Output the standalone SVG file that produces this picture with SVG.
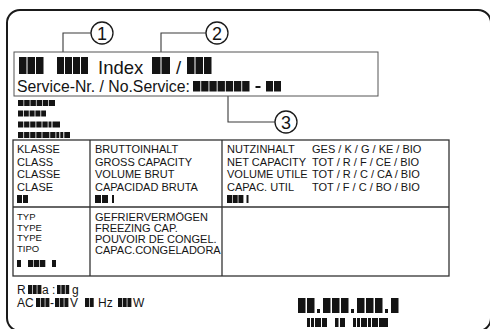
<svg xmlns="http://www.w3.org/2000/svg" width="490" height="329" viewBox="0 0 490 329">
<defs>
<style>
.t{font-family:"Liberation Sans",Arial,sans-serif;fill:#141414}
.b{fill:#141414}
.ln{fill:none;stroke:#3a3a3a;stroke-width:1.1}
.tb{fill:none;stroke:#333;stroke-width:1.3}
.cir{fill:#fff;stroke:#1a1a1a;stroke-width:1.3}
.num{font-family:"Liberation Sans",Arial,sans-serif;font-size:18px;fill:#141414;text-anchor:middle}
</style>
</defs>
<rect width="490" height="329" fill="#fff"/>
<g id="label-outline">
<rect x="7" y="10" width="484" height="321" rx="13" ry="13" fill="none" stroke="#1a1a1a" stroke-width="2"/>
</g>
<g id="connectors">
<polyline class="ln" points="63,52 63,33 91,33"/>
<polyline class="ln" points="161,52 161,33 206,33"/>
<polyline class="ln" points="228,96 228,122 275,122"/>
</g>
<g id="callout-1">
<circle class="cir" cx="102" cy="33" r="11"/>
<text class="num" x="102" y="39.5">1</text>
</g>
<g id="callout-2">
<circle class="cir" cx="217" cy="33" r="11"/>
<text class="num" x="217" y="39.5">2</text>
</g>
<g id="callout-3">
<circle class="cir" cx="286" cy="122" r="11"/>
<text class="num" x="286" y="128.5">3</text>
</g>
<g id="index-box">
<rect x="14" y="52" width="364" height="44" fill="none" stroke="#555" stroke-width="1"/>
<rect class="b" x="19" y="57" width="7.5" height="17"/><rect class="b" x="27.5" y="57" width="7.5" height="17"/><rect class="b" x="36" y="57" width="7.5" height="17"/>
<rect class="b" x="57" y="57" width="7" height="17"/><rect class="b" x="65" y="57" width="7" height="17"/><rect class="b" x="73" y="57" width="7" height="17"/><rect class="b" x="81" y="57" width="7" height="17"/>
<text class="t" x="98" y="74" font-size="18.5">Index</text>
<rect class="b" x="152" y="57" width="8.5" height="17"/><rect class="b" x="161.5" y="57" width="8.5" height="17"/>
<text class="t" x="176" y="74" font-size="18.5">/</text>
<rect class="b" x="187" y="57" width="7.5" height="17"/><rect class="b" x="195.5" y="57" width="7.5" height="17"/><rect class="b" x="204" y="57" width="7.5" height="17"/>
<text class="t" x="17" y="91.5" font-size="15.8">Service-Nr. / No.Service:</text>
<rect class="b" x="193" y="81" width="7.3" height="10.5"/><rect class="b" x="201.2" y="81" width="7.3" height="10.5"/><rect class="b" x="209.4" y="81" width="7.3" height="10.5"/><rect class="b" x="217.6" y="81" width="7.3" height="10.5"/><rect class="b" x="225.8" y="81" width="7.3" height="10.5"/><rect class="b" x="234" y="81" width="7.3" height="10.5"/><rect class="b" x="242.2" y="81" width="7.3" height="10.5"/>
<rect class="b" x="255.5" y="86" width="5" height="2"/>
<rect class="b" x="266" y="81" width="7" height="10.5"/><rect class="b" x="274" y="81" width="7" height="10.5"/>
</g>
<g id="codes-left">
<rect class="b" x="18" y="100" width="5.5" height="6"/><rect class="b" x="24.2" y="100" width="5.5" height="6"/><rect class="b" x="30.4" y="100" width="5.5" height="6"/><rect class="b" x="36.6" y="100" width="5.5" height="6"/><rect class="b" x="42.8" y="100" width="5.5" height="6"/><rect class="b" x="49" y="100" width="6" height="6"/>
<rect class="b" x="18" y="110.5" width="5" height="6"/><rect class="b" x="23.8" y="110.5" width="5" height="6"/><rect class="b" x="29.6" y="110.5" width="5" height="6"/><rect class="b" x="35.4" y="110.5" width="5" height="6"/><rect class="b" x="41.2" y="110.5" width="4.8" height="6"/>
<rect class="b" x="18" y="121.5" width="5.3" height="6"/><rect class="b" x="24.1" y="121.5" width="5.3" height="6"/><rect class="b" x="30.2" y="121.5" width="5.3" height="6"/><rect class="b" x="36.3" y="121.5" width="5.3" height="6"/><rect class="b" x="42.4" y="121.5" width="5.3" height="6"/><rect class="b" x="48.5" y="121.5" width="3" height="6"/><rect class="b" x="52.5" y="121.5" width="7.5" height="6"/>
<rect class="b" x="18" y="132" width="5.3" height="6"/><rect class="b" x="24.1" y="132" width="5.3" height="6"/><rect class="b" x="30.2" y="132" width="5.3" height="6"/><rect class="b" x="36.3" y="132" width="5.3" height="6"/><rect class="b" x="42.4" y="132" width="7" height="6"/><rect class="b" x="50.2" y="132" width="5.3" height="6"/><rect class="b" x="56.3" y="132" width="3" height="6"/><rect class="b" x="60.3" y="132" width="3" height="6"/><rect class="b" x="64.3" y="132" width="5.7" height="6"/>
</g>
<g id="table">
<rect class="tb" x="13" y="140" width="436" height="136"/>
<line class="tb" x1="13" y1="207" x2="449" y2="207"/>
<line class="tb" x1="90" y1="140" x2="90" y2="276"/>
<line class="tb" x1="222" y1="140" x2="222" y2="276"/>
</g>
<g id="cell-class" class="t" font-size="11">
<text x="17" y="153">KLASSE</text>
<text x="17" y="165.5">CLASS</text>
<text x="17" y="178">CLASSE</text>
<text x="17" y="190.5">CLASE</text>
<rect class="b" x="17" y="195" width="5" height="8"/><rect class="b" x="23" y="195" width="5" height="8"/>
</g>
<g id="cell-gross" class="t" font-size="11">
<text x="95" y="153">BRUTTOINHALT</text>
<text x="95" y="165.5">GROSS CAPACITY</text>
<text x="95" y="178">VOLUME BRUT</text>
<text x="95" y="190.5">CAPACIDAD BRUTA</text>
<rect class="b" x="95" y="195" width="6" height="8"/><rect class="b" x="102" y="195" width="6" height="8"/><rect class="b" x="112" y="195" width="2" height="8"/>
</g>
<g id="cell-net" class="t" font-size="11">
<text x="227" y="153">NUTZINHALT</text>
<text x="227" y="165.5">NET CAPACITY</text>
<text x="227" y="178">VOLUME UTILE</text>
<text x="227" y="190.5">CAPAC. UTIL</text>
<text x="312" y="153">GES / K / G / KE / BIO</text>
<text x="312" y="165.5">TOT / R / F / CE / BIO</text>
<text x="312" y="178">TOT / R / C / CA / BIO</text>
<text x="312" y="190.5">TOT / F / C / BO / BIO</text>
<rect class="b" x="227" y="195" width="5" height="8"/><rect class="b" x="232.7" y="195" width="5" height="8"/><rect class="b" x="238.4" y="195" width="5" height="8"/><rect class="b" x="246.5" y="195" width="2" height="8"/>
</g>
<g id="cell-type" class="t" font-size="9.5">
<text x="17" y="220">TYP</text>
<text x="17" y="230.5">TYPE</text>
<text x="17" y="241">TYPE</text>
<text x="17" y="251.5">TIPO</text>
<rect class="b" x="17" y="260" width="4" height="7"/><rect class="b" x="28" y="260" width="5.3" height="7"/><rect class="b" x="34" y="260" width="5.3" height="7"/><rect class="b" x="40" y="260" width="5.3" height="7"/><rect class="b" x="52" y="260" width="4" height="7"/>
</g>
<g id="cell-freeze" class="t" font-size="11">
<text x="95" y="220.5">GEFRIERVERMÖGEN</text>
<text x="95" y="231.5">FREEZING CAP.</text>
<text x="95" y="243">POUVOIR DE CONGEL.</text>
<text x="95" y="254">CAPAC.CONGELADORA</text>
</g>
<g id="ratings" class="t" font-size="12">
<text x="17" y="294">R</text>
<rect class="b" x="28" y="285" width="4" height="9"/><rect class="b" x="32.7" y="285" width="4" height="9"/><rect class="b" x="37.4" y="285" width="4" height="9"/>
<text x="42" y="294">a :</text>
<rect class="b" x="57" y="285" width="3.6" height="9"/><rect class="b" x="61.3" y="285" width="3.6" height="9"/><rect class="b" x="65.6" y="285" width="3.6" height="9"/>
<text x="72" y="294">g</text>
<text x="17" y="307">AC</text>
<rect class="b" x="36" y="298" width="4" height="9"/><rect class="b" x="40.7" y="298" width="4" height="9"/><rect class="b" x="45.4" y="298" width="4" height="9"/>
<text x="50" y="307">-</text>
<rect class="b" x="55" y="298" width="4" height="9"/><rect class="b" x="59.7" y="298" width="4" height="9"/><rect class="b" x="64.4" y="298" width="4" height="9"/>
<text x="70" y="307">V</text>
<rect class="b" x="85" y="298" width="4" height="9"/><rect class="b" x="89.7" y="298" width="4" height="9"/>
<text x="98" y="307">Hz</text>
<rect class="b" x="118" y="298" width="4" height="9"/><rect class="b" x="122.7" y="298" width="4" height="9"/><rect class="b" x="127.4" y="298" width="4" height="9"/>
<text x="133" y="307">W</text>
</g>
<g id="serial">
<rect class="b" x="298" y="298" width="7.5" height="15"/><rect class="b" x="307" y="298" width="7.5" height="15"/>
<rect class="b" x="317" y="309" width="3" height="4"/>
<rect class="b" x="323" y="298" width="7.5" height="15"/><rect class="b" x="332" y="298" width="7.5" height="15"/><rect class="b" x="341" y="298" width="7.5" height="15"/>
<rect class="b" x="351" y="309" width="3" height="4"/>
<rect class="b" x="357" y="298" width="7.5" height="15"/><rect class="b" x="366" y="298" width="7.5" height="15"/><rect class="b" x="375" y="298" width="7.5" height="15"/>
<rect class="b" x="385" y="309" width="3" height="4"/>
<rect class="b" x="391" y="298" width="7.5" height="15"/>
<rect class="b" x="307" y="318" width="3" height="9"/><rect class="b" x="311" y="318" width="3" height="9"/><rect class="b" x="315" y="318" width="6" height="9"/><rect class="b" x="322" y="318" width="5" height="9"/>
<rect class="b" x="335" y="318" width="3.5" height="9"/><rect class="b" x="340" y="318" width="5" height="9"/>
<rect class="b" x="353" y="318" width="3" height="9"/><rect class="b" x="357" y="318" width="3" height="9"/><rect class="b" x="361" y="318" width="6" height="9"/><rect class="b" x="368" y="318" width="3" height="9"/><rect class="b" x="372" y="318" width="6" height="9"/><rect class="b" x="379" y="318" width="9" height="9"/>
</g>
</svg>
